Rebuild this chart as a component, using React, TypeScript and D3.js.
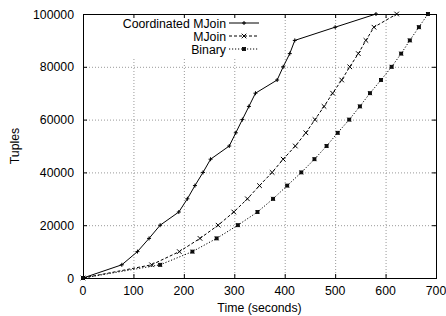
import React from "react";
import * as d3 from "d3";

// time (seconds) at which each 5000-tuple step was reached
const tuples = [0, 5000, 10000, 15000, 20000, 25000, 30000, 35000, 40000, 45000, 50000,
  55000, 60000, 65000, 70000, 75000, 80000, 85000, 90000, 95000, 100000];
const coordTimes = [0, 77, 108, 131, 153, 190, 207, 222, 238, 253, 290,
  303, 316, 329, 342, 385, 397, 410, 420, 500, 581];
const mjoinTimes = [0, 136, 191, 232, 268, 299, 326, 350, 375, 397, 421,
  442, 460, 478, 495, 513, 529, 546, 561, 577, 622];
const binaryTimes = [0, 153, 217, 265, 307, 346, 377, 405, 433, 459, 483,
  505, 528, 549, 569, 591, 612, 631, 648, 666, 684];

const xTicks = [0, 100, 200, 300, 400, 500, 600, 700];
const yTicks = [0, 20000, 40000, 60000, 80000, 100000];

const series = [
  { name: "Coordinated MJoin", times: coordTimes, dash: "none", mark: "plus" },
  { name: "MJoin", times: mjoinTimes, dash: "3,2", mark: "cross" },
  { name: "Binary", times: binaryTimes, dash: "1.2,1.8", mark: "box" },
];

const W = 446, H = 316;
const left = 83, right = 436, top = 14, bottom = 278;
const font = "'Liberation Sans', Arial, Helvetica, sans-serif";

const Marker: React.FC<{ kind: string; x: number; y: number }> = ({ kind, x, y }) => {
  if (kind === "plus") {
    const s = 2;
    return <path d={`M${x - s},${y}H${x + s}M${x},${y - s}V${y + s}`} stroke="#000" strokeWidth={1} />;
  }
  if (kind === "cross") {
    const s = 2.3;
    return <path d={`M${x - s},${y - s}L${x + s},${y + s}M${x - s},${y + s}L${x + s},${y - s}`} stroke="#000" strokeWidth={1} />;
  }
  const s = 2;
  return (
    <g>
      <rect x={x - 1.5} y={y - 1.5} width={3} height={3} fill="#222" stroke="#000" strokeWidth={0.8} />
      <path d={`M${x - s},${y - s}L${x + s},${y + s}M${x - s},${y + s}L${x + s},${y - s}`} stroke="#000" strokeWidth={0.7} />
    </g>
  );
};

export default function App() {
  const x = d3.scaleLinear().domain([0, 700]).range([left, right]);
  const y = d3.scaleLinear().domain([0, 100000]).range([bottom, top]);
  const line = d3.line<[number, number]>().x(d => x(d[0])).y(d => y(d[1]));

  const legendRows = [23, 36, 49];

  return (
    <svg width={W} height={H} style={{ position: "absolute", left: 0, top: 0, background: "#fff" }}
      fontFamily={font} fontSize={12.3}>
      {/* grid */}
      <g stroke="#999" strokeWidth={1} strokeDasharray="1,2">
        {xTicks.slice(1, -1).map(t => (
          <line key={"gx" + t} x1={x(t) + 0.5} x2={x(t) + 0.5} y1={top} y2={bottom} />
        ))}
        {yTicks.slice(1, -1).map(t => (
          <line key={"gy" + t} x1={left} x2={right} y1={y(t) + 0.5} y2={y(t) + 0.5} />
        ))}
      </g>
      {/* key area blanks the grid */}
      <rect x={110} y={top + 1} width={153} height={42} fill="#fff" />

      {/* frame and ticks */}
      <rect x={left + 0.5} y={top + 0.5} width={right - left} height={bottom - top} fill="none" stroke="#000" />
      <g stroke="#000">
        {xTicks.map(t => (
          <g key={"tx" + t}>
            <line x1={x(t) + 0.5} x2={x(t) + 0.5} y1={bottom} y2={bottom - 4} />
            <line x1={x(t) + 0.5} x2={x(t) + 0.5} y1={top} y2={top + 4} />
          </g>
        ))}
        {yTicks.map(t => (
          <g key={"ty" + t}>
            <line x1={left} x2={left + 4} y1={y(t) + 0.5} y2={y(t) + 0.5} />
            <line x1={right} x2={right - 4} y1={y(t) + 0.5} y2={y(t) + 0.5} />
          </g>
        ))}
      </g>
      {xTicks.map(t => (
        <text key={"lx" + t} x={x(t)} y={bottom + 17} textAnchor="middle">{t}</text>
      ))}
      {yTicks.map(t => (
        <text key={"ly" + t} x={left - 9} y={y(t) + 4.5} textAnchor="end">{t}</text>
      ))}
      <text x={(left + right) / 2} y={312} textAnchor="middle">Time (seconds)</text>
      <text transform={`translate(19,${(top + bottom) / 2}) rotate(-90)`} textAnchor="middle">Tuples</text>

      {/* series */}
      {series.map(s => {
        const pts: [number, number][] = s.times.map((t, i) => [t, tuples[i]]);
        return (
          <g key={s.name}>
            <path d={line(pts) || ""} fill="none" stroke="#000" strokeWidth={1}
              strokeDasharray={s.dash === "none" ? undefined : s.dash} />
            {pts.map((p, i) => <Marker key={i} kind={s.mark} x={x(p[0])} y={y(p[1])} />)}
          </g>
        );
      })}

      {/* legend */}
      {series.map((s, i) => (
        <g key={"lg" + s.name}>
          <text x={226} y={legendRows[i] + 5} textAnchor="end">{s.name}</text>
          <line x1={229} x2={259} y1={legendRows[i]} y2={legendRows[i]} stroke="#000"
            strokeDasharray={s.dash === "none" ? undefined : s.dash} />
          <Marker kind={s.mark} x={244} y={legendRows[i]} />
        </g>
      ))}
    </svg>
  );
}
